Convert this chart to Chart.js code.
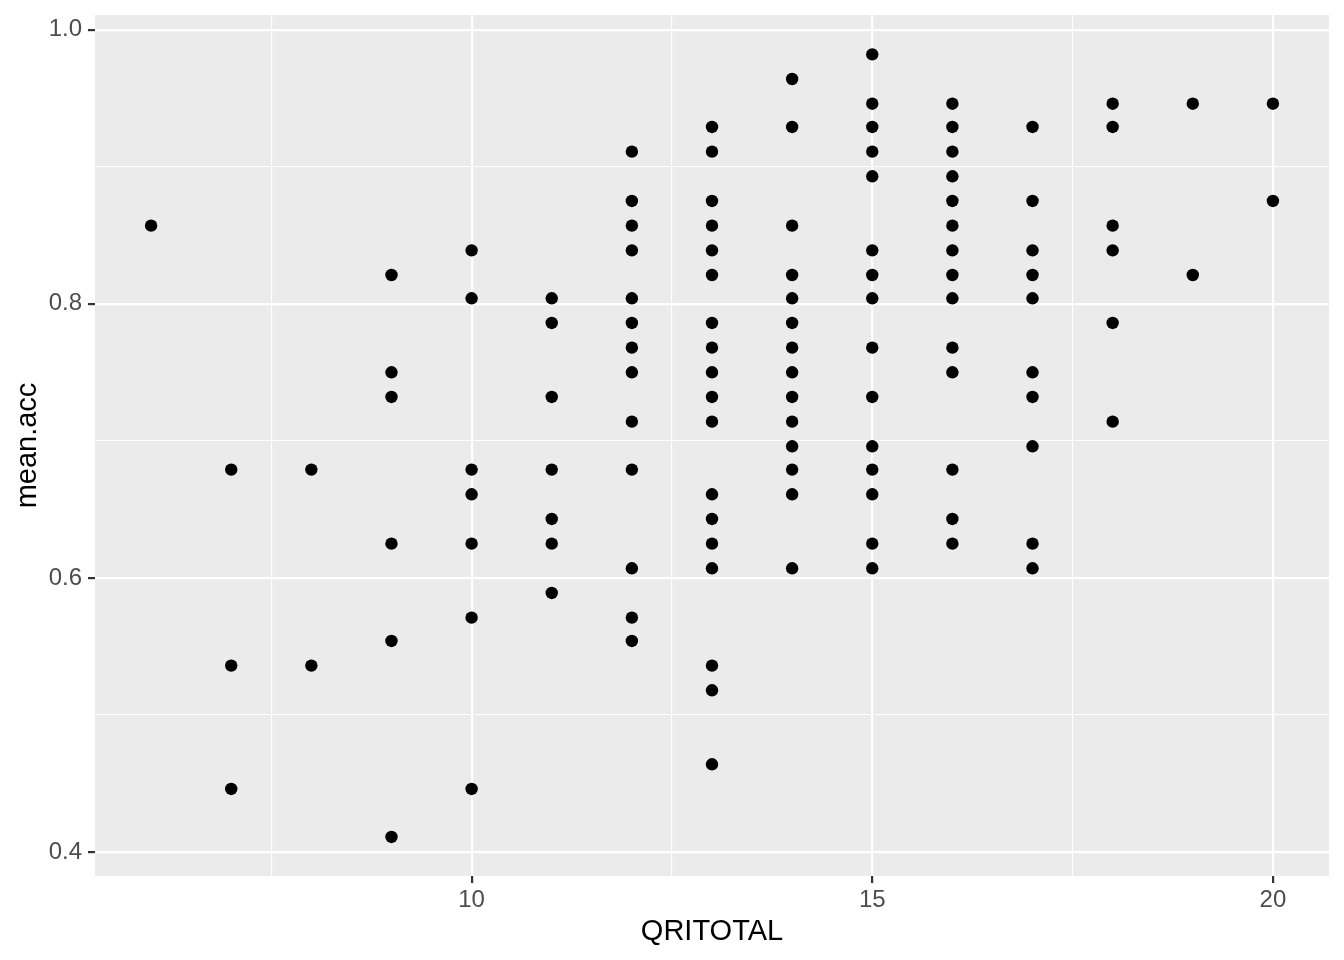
<!DOCTYPE html>
<html>
<head>
<meta charset="utf-8">
<script src="https://cdn.jsdelivr.net/npm/chart.js@4/dist/chart.umd.min.js"></script>
<style>
  html, body { margin: 0; padding: 0; background: #ffffff; }
  #wrap { width: 1344px; height: 960px; }
</style>
</head>
<body>
<div id="wrap"><canvas id="c" width="1344" height="960"></canvas></div>
<script>
// ---- data ----
const qriValues = [6, 7, 8, 9, 10, 11, 12, 13, 14, 15, 16, 17, 18, 19, 20];
const accByQri = [
  [0.857],
  [0.679, 0.536, 0.446],
  [0.679, 0.536],
  [0.821, 0.750, 0.732, 0.625, 0.554, 0.411],
  [0.839, 0.804, 0.679, 0.661, 0.625, 0.571, 0.446],
  [0.804, 0.786, 0.732, 0.679, 0.643, 0.625, 0.589],
  [0.911, 0.875, 0.857, 0.839, 0.804, 0.786, 0.768, 0.750, 0.714, 0.679, 0.607, 0.571, 0.554],
  [0.929, 0.911, 0.875, 0.857, 0.839, 0.821, 0.786, 0.768, 0.750, 0.732, 0.714, 0.661, 0.643, 0.625, 0.607, 0.536, 0.518, 0.464],
  [0.964, 0.929, 0.857, 0.821, 0.804, 0.786, 0.768, 0.750, 0.732, 0.714, 0.696, 0.679, 0.661, 0.607],
  [0.982, 0.946, 0.929, 0.911, 0.893, 0.839, 0.821, 0.804, 0.768, 0.732, 0.696, 0.679, 0.661, 0.625, 0.607],
  [0.946, 0.929, 0.911, 0.893, 0.875, 0.857, 0.839, 0.821, 0.804, 0.768, 0.750, 0.679, 0.643, 0.625],
  [0.929, 0.875, 0.839, 0.821, 0.804, 0.750, 0.732, 0.696, 0.625, 0.607],
  [0.946, 0.929, 0.857, 0.839, 0.786, 0.714],
  [0.946, 0.821],
  [0.946, 0.875]
];
const xMajorTicks = [10, 15, 20];
const xMinorTicks = [7.5, 12.5, 17.5];
const yMajorTicks = [0.4, 0.6, 0.8, 1.0];
const yMinorTicks = [0.5, 0.7, 0.9];
const xTitle = 'QRITOTAL';
const yTitle = 'mean.acc';

// ---- build points ----
const points = [];
qriValues.forEach((q, i) => accByQri[i].forEach(a => points.push({ x: q, y: a })));

const FONT = "'Liberation Sans', Arial, Helvetica, sans-serif";

function isMajor(list, v) { return list.some(m => Math.abs(m - v) < 1e-9); }

const panelBg = {
  id: 'panelBg',
  beforeDraw(chart) {
    const { ctx, chartArea: a } = chart;
    ctx.save();
    ctx.fillStyle = '#EBEBEB';
    ctx.fillRect(a.left, a.top, a.right - a.left, a.bottom - a.top);
    ctx.restore();
  }
};

function gridFor(majors) {
  return {
    drawOnChartArea: true,
    drawTicks: true,
    tickLength: 7,
    color: '#FFFFFF',
    lineWidth: ctx => (ctx.tick && isMajor(majors, ctx.tick.value)) ? 2.2 : 1.1,
    tickColor: ctx => (ctx.tick && isMajor(majors, ctx.tick.value)) ? '#333333' : 'rgba(0,0,0,0)',
    tickWidth: ctx => (ctx.tick && isMajor(majors, ctx.tick.value)) ? 2.2 : 0.01
  };
}

new Chart(document.getElementById('c'), {
  type: 'scatter',
  data: {
    datasets: [{
      data: points,
      backgroundColor: '#000000',
      borderWidth: 0,
      pointRadius: 6.2,
      pointHoverRadius: 6.2
    }]
  },
  plugins: [panelBg],
  options: {
    responsive: false,
    animation: false,
    devicePixelRatio: 1,
    layout: { padding: { top: 15, right: 15, left: 0, bottom: 0 } },
    plugins: { legend: { display: false }, tooltip: { enabled: false } },
    scales: {
      x: {
        type: 'linear',
        min: 5.3,
        max: 20.7,
        border: { display: false },
        grid: gridFor(xMajorTicks),
        afterBuildTicks: s => { s.ticks = xMinorTicks.concat(xMajorTicks).sort((a, b) => a - b).map(v => ({ value: v })); },
        afterFit: s => { s.height = 84; s.paddingLeft = 0; s.paddingRight = 0; },
        ticks: {
          autoSkip: false,
          maxRotation: 0,
          padding: 3,
          color: '#4D4D4D',
          font: { family: FONT, size: 24 },
          callback: v => isMajor(xMajorTicks, v) ? String(v) : ''
        },
        title: {
          display: true,
          text: xTitle,
          color: '#000000',
          font: { family: FONT, size: 29 },
          padding: { top: 0, bottom: 11 }
        }
      },
      y: {
        type: 'linear',
        min: 0.3825,
        max: 1.0107,
        border: { display: false },
        grid: gridFor(yMajorTicks),
        afterBuildTicks: s => { s.ticks = yMinorTicks.concat(yMajorTicks).sort((a, b) => a - b).map(v => ({ value: v })); },
        afterFit: s => { s.width = 95; s.paddingTop = 0; s.paddingBottom = 0; },
        ticks: {
          autoSkip: false,
          padding: 6,
          color: '#4D4D4D',
          font: { family: FONT, size: 24 },
          callback: v => isMajor(yMajorTicks, v) ? v.toFixed(1) : ''
        },
        title: {
          display: true,
          text: yTitle,
          color: '#000000',
          font: { family: FONT, size: 29 },
          padding: { top: 10.5, bottom: 0 }
        }
      }
    }
  }
});
</script>
</body>
</html>
